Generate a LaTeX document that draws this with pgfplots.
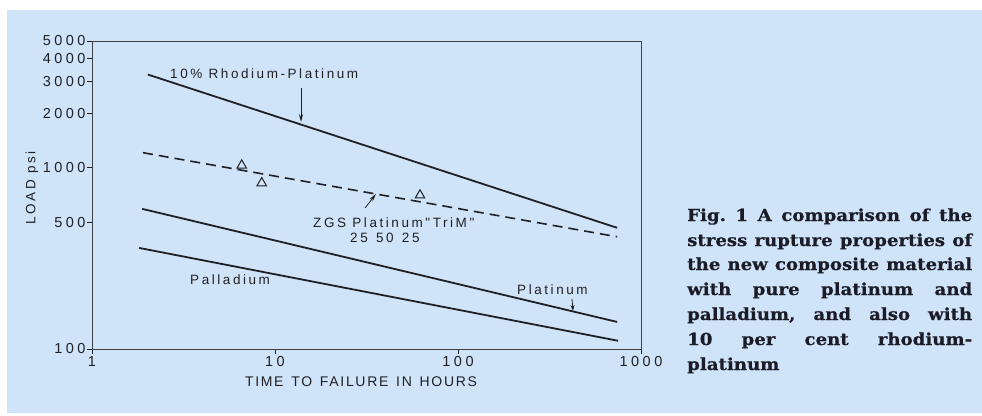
\documentclass[border=0pt]{standalone}
\usepackage{fontspec}
\usepackage{pgfplots}
\pgfplotsset{compat=1.18}
\usetikzlibrary{arrows.meta}
\setmainfont{Liberation Sans}
\newfontfamily\tickfont[LetterSpace=24]{Liberation Sans}
\newfontfamily\lblfont[LetterSpace=19]{Liberation Sans}
\newfontfamily\xlblfont[LetterSpace=12,WordSpace=1.4]{Liberation Sans}
\newfontfamily\capfont[FakeStretch=1.1,BoldFeatures={FakeBold=0.6}]{DejaVu Serif}
\definecolor{bg}{RGB}{208,228,249}
\definecolor{ink}{RGB}{32,32,36}
\definecolor{capink}{RGB}{28,28,40}
\begin{document}
\frenchspacing
\begin{tikzpicture}[x=1bp,y=1bp]
\fill[white] (0,0) rectangle (982,415);
\fill[bg] (7,2) rectangle (982,405);
\begin{axis}[
  at={(92bp,66bp)}, anchor=south west,
  scale only axis, width=549bp, height=308bp,
  xmode=log, ymode=log,
  xmin=1, xmax=1000, ymin=100, ymax=5000,
  xtick={1,10,100,1000}, xticklabels={1,10,100,1000},
  ytick={100,500,1000,2000,3000,4000,5000},
  yticklabels={100,500,1000,2000,3000,4000,5000},
  xminorticks=false, yminorticks=false,
  xtick pos=bottom, ytick pos=left,
  tick align=outside, major tick length=5bp,
  axis line style={ink!85, line width=0.8bp},
  tick style={ink, line width=0.9bp},
  ticklabel style={font=\tickfont\fontsize{14.5bp}{16bp}\selectfont, text=ink},
  xticklabel style={yshift=1bp},
  yticklabel style={xshift=2bp},
  /pgf/number format/assume math mode=true,
  clip=false,
]
\addplot[ink, line width=1.8bp] coordinates {(2.02,3265) (741,466)};
\addplot[ink, line width=1.6bp, dash pattern=on 10bp off 6bp] coordinates {(1.9,1210) (741,416)};
\addplot[ink, line width=1.8bp] coordinates {(1.88,593) (741,141)};
\addplot[ink, line width=1.8bp] coordinates {(1.81,361) (750,111)};
\addplot[only marks, mark=triangle, mark size=5.5bp, mark options={draw=ink, line width=1bp, fill=none}] coordinates {(6.58,1030) (8.46,823) (62,705)};
\end{axis}
% curve labels
\begin{scope}[every node/.style={inner sep=0, text=ink, font=\lblfont\fontsize{13.5bp}{15bp}\selectfont}]
\node[anchor=west] at (170,341) {10\% Rhodium-Platinum};
\node[anchor=west] at (313,192) {ZGS Platinum"TriM"};
\node[anchor=west] at (350,177) {25\hspace{2bp} 50\hspace{2bp} 25};
\node[anchor=west] at (190,135) {Palladium};
\node[anchor=west] at (517,125) {Platinum};
\node[rotate=90] at (32,227) {LOAD psi};
\end{scope}
\node[inner sep=0, text=ink, font=\xlblfont\fontsize{14bp}{15bp}\selectfont] at (361,33) {TIME TO FAILURE IN HOURS};
% arrows
\draw[ink, line width=0.8bp, -{Stealth[length=8bp,width=4bp]}] (301,327) -- (301,293);
\draw[ink, line width=0.8bp, -{Stealth[length=8bp,width=4bp]}] (365,207) -- (376,221);
\draw[ink, line width=0.8bp, -{Stealth[length=6bp,width=4bp]}] (572,116) -- (573,104);
% caption
\begin{scope}[every node/.style={anchor=base west, inner sep=0, text=capink, font=\capfont\bfseries\fontsize{16.5bp}{20bp}\selectfont}]
\node at (687,194) {\makebox[285bp][s]{Fig. 1 A comparison of the}};
\node at (687,169) {\makebox[285bp][s]{stress rupture properties of}};
\node at (687,145) {\makebox[285bp][s]{the new composite material}};
\node at (687,120) {\makebox[285bp][s]{with pure platinum and}};
\node at (687,95) {\makebox[285bp][s]{palladium, and also with}};
\node at (687,70) {\makebox[285bp][s]{10 per cent rhodium-}};
\node at (687,45) {platinum};
\end{scope}
\end{tikzpicture}
\end{document}
